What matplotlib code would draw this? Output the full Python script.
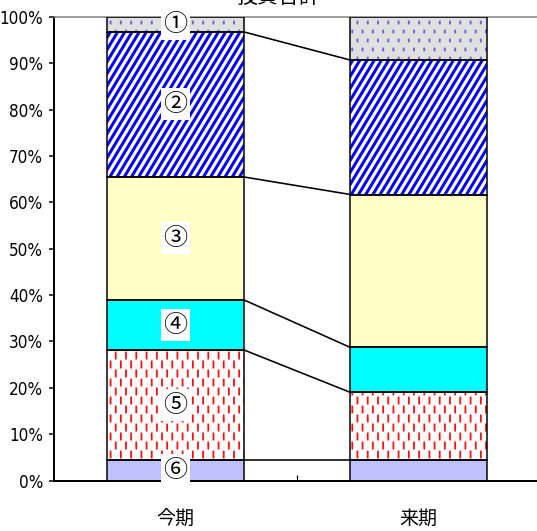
import warnings
import numpy as np
import matplotlib
matplotlib.use("Agg")
import matplotlib.pyplot as plt
from matplotlib import hatch as mhatch
from matplotlib import font_manager as fm
from matplotlib.path import Path

warnings.filterwarnings("ignore")

periods = ["今期", "来期"]
items = ["⑥", "⑤", "④", "③", "②", "①"]
# shares (%) per item, bottom to top
konki = [4.5, 23.7, 10.8, 26.5, 31.3, 3.2]
raiki = [4.5, 14.5, 9.7, 33.0, 29.0, 9.3]
yticks = [0, 10, 20, 30, 40, 50, 60, 70, 80, 90, 100]


def dash_hatch(char, cols, rows, half):
    # staggered short vertical dashes; half == 0 gives dots
    class _Hatch(mhatch.HatchPatternBase):
        def __init__(self, hatch, density):
            self.n = hatch.count(char)
            self.num_vertices = 2 * cols * rows if self.n else 0

        def set_vertices_and_codes(self, vertices, codes):
            k = 0
            for j in range(rows):
                y = (j + 0.5) / rows
                for i in range(cols):
                    xx = (i + 0.25 + 0.5 * (j % 2)) / cols
                    vertices[k] = (xx, y - half)
                    vertices[k + 1] = (xx, y + half)
                    codes[k] = Path.MOVETO
                    codes[k + 1] = Path.LINETO
                    k += 2
    return _Hatch


class SteepHatch(mhatch.HatchPatternBase):
    # steep upward diagonal stripes ('&')
    def __init__(self, hatch, density):
        self.lines = 10 if hatch.count("&") else 0
        self.num_vertices = 2 * 3 * self.lines

    def set_vertices_and_codes(self, vertices, codes):
        k = 0
        for i in range(-self.lines, 2 * self.lines):
            x0 = i / self.lines
            vertices[k] = (x0, 0.0)
            vertices[k + 1] = (x0 + 0.6, 1.0)
            codes[k] = Path.MOVETO
            codes[k + 1] = Path.LINETO
            k += 2


mhatch._hatch_types += [dash_hatch("!", 7, 8, 0.042), dash_hatch(":", 7, 8, 0.012), SteepHatch]

fills = ["#C0C0FF", "white", "#00FFFF", "#FFFFC8", "white", "#E0E0E0"]
hatch_cols = ["#C0C0FF", "#FF1010", "#00FFFF", "#FFFFC8", "#0000FF", "#6A6AD0"]
hatches = [None, "!", None, None, "&", ":"]
hatch_lw = [1, 1.8, 1, 1, 3.0, 2.0]

installed = {(f.name, f.stretch) for f in fm.fontManager.ttflist}
if any(n == "Liberation Sans Narrow" for n, s in installed):
    tick_font = dict(family="Liberation Sans Narrow", fontsize=19)
elif ("DejaVu Sans", "condensed") in installed:
    tick_font = dict(family="DejaVu Sans", fontstretch="condensed", fontsize=17)
else:
    tick_font = dict(family="DejaVu Sans", fontsize=14)

plt.rcParams["font.family"] = ["Noto Sans CJK JP", "DejaVu Sans"]

fig = plt.figure(figsize=(537 / 72, 531 / 72), dpi=72)
ax = fig.add_axes([54 / 537, 50.5 / 531, 486 / 537, 463.5 / 531])

x = np.arange(len(periods))
width = 0.56
data = np.array([konki, raiki])
bottoms = np.zeros(len(periods))
for k in range(len(items)):
    vals = data[:, k]
    with plt.rc_context({"hatch.linewidth": hatch_lw[k]}):
        ax.bar(x, vals, width, bottom=bottoms, color=fills[k],
               edgecolor=hatch_cols[k], hatch=hatches[k], linewidth=0, zorder=2)
    ax.bar(x, vals, width, bottom=bottoms, facecolor="none",
           edgecolor="black", linewidth=1.5, zorder=3)
    bottoms = bottoms + vals

# series lines between the two bars
cum = np.cumsum(data, axis=1)
for k in range(len(items) - 1):
    ax.plot([x[0] + width / 2, x[1] - width / 2], [cum[0, k], cum[1, k]],
            color="black", lw=1.6, zorder=3)

# item labels on the first bar
centers = cum[0] - data[0] / 2
for k, lab in enumerate(items):
    ax.text(x[0], centers[k], lab, ha="center", va="center", fontsize=24,
            zorder=4, bbox=dict(boxstyle="square,pad=0.12", fc="white", ec="none"))

ax.set_xlim(-0.5, 1.5)
ax.set_ylim(0, 100)
ax.set_yticks(yticks)
ax.set_yticklabels([f"{v}%" for v in yticks], **tick_font)
ax.tick_params(axis="y", direction="out", length=5, width=1.5, pad=6)
ax.set_xticks(x)
ax.set_xticklabels(periods, fontsize=19)
ax.tick_params(axis="x", which="major", length=0, pad=27)
ax.set_xticks([0.5], minor=True)
ax.tick_params(axis="x", which="minor", direction="in", length=6, width=1.2)

for side in ["left", "bottom"]:
    ax.spines[side].set_linewidth(2)
ax.spines["top"].set_color("#808080")
ax.spines["top"].set_linewidth(1.5)
ax.spines["right"].set_color("#808080")

fig.text(278 / 537, 1 - 3 / 531, "投資合計", ha="center", va="baseline", fontsize=21)

plt.savefig("out.png", dpi=72)
